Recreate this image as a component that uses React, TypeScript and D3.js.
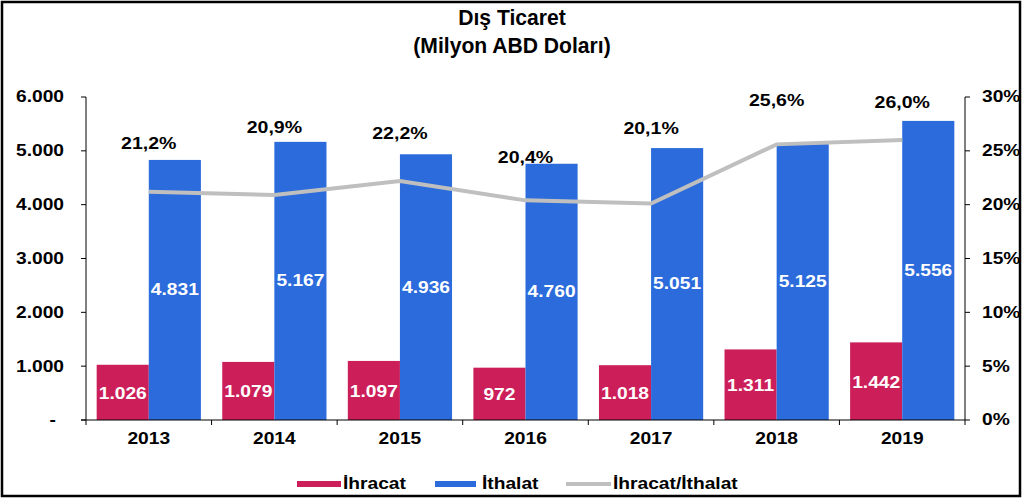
import * as d3 from "d3";
import React from "react";

const years = ["2013", "2014", "2015", "2016", "2017", "2018", "2019"];
const ihracat = [1026, 1079, 1097, 972, 1018, 1311, 1442];
const ithalat = [4831, 5167, 4936, 4760, 5051, 5125, 5556];
const oran = [21.2, 20.9, 22.2, 20.4, 20.1, 25.6, 26.0];
const leftTicks = [0, 1000, 2000, 3000, 4000, 5000, 6000];
const rightTicks = [0, 5, 10, 15, 20, 25, 30];

// label lift above the higher of bar top / line point (layout only)
const pctLift = [17, 15, 21, 7, 20, 44, 19];

const W = 1023;
const H = 499;
const margin = { top: 97, right: 58, bottom: 79, left: 86 };
const font = "'Liberation Sans', Arial, sans-serif";
const RED = "#CC1F5A";
const BLUE = "#2B6BDB";
const GREY = "#BFBFBF";
const SX = 1.2; // text in the picture is a bit wide

const fmt = (v: number) => d3.format(",")(v).replace(/,/g, ".");

function T({
  x,
  y,
  anchor = "middle",
  size = 16,
  fill = "#000",
  sx = SX,
  children,
}: {
  x: number;
  y: number;
  anchor?: string;
  size?: number;
  fill?: string;
  sx?: number;
  children: React.ReactNode;
}) {
  return (
    <text
      transform={`translate(${x},${y}) scale(${sx},1)`}
      textAnchor={anchor}
      dominantBaseline="central"
      fontSize={size}
      fontWeight="bold"
      fill={fill}
    >
      {children}
    </text>
  );
}

export default function App() {
  const x = d3
    .scaleBand()
    .domain(years)
    .range([margin.left, W - margin.right])
    .paddingInner(0.17)
    .paddingOuter(0.085);
  const sub = d3.scaleBand().domain(["ih", "it"]).range([0, x.bandwidth()]);
  const y = d3.scaleLinear().domain([0, 6000]).range([H - margin.bottom, margin.top]);
  const y2 = d3.scaleLinear().domain([0, 30]).range([H - margin.bottom, margin.top]);
  const cx = (yr: string) => (x(yr) ?? 0) + x.bandwidth() / 2;

  const line = d3
    .line<number>()
    .x((_, i) => cx(years[i]))
    .y((d) => y2(d));

  const x0 = margin.left;
  const x1 = W - margin.right;
  const yb = H - margin.bottom;
  const step = x.step();
  const bounds = d3.range(years.length + 1).map((i) => x0 + i * step);

  return (
    <div style={{ position: "absolute", left: 0, top: 0 }}>
      <svg width={W} height={H} style={{ display: "block", fontFamily: font }}>
        <rect x={0} y={0} width={W} height={H} fill="#fff" />
        <rect x={2} y={2} width={W - 5} height={H - 5} fill="none" stroke="#000" strokeWidth={2.5} />

        <T x={512} y={17} size={22} sx={0.96}>Dış Ticaret</T>
        <T x={512} y={45} size={22} sx={0.96}>(Milyon ABD Doları)</T>

        {/* bars */}
        {years.map((yr, i) => (
          <g key={yr}>
            <rect x={(x(yr) ?? 0) + (sub("ih") ?? 0)} y={y(ihracat[i])} width={sub.bandwidth()} height={yb - y(ihracat[i])} fill={RED} />
            <rect x={(x(yr) ?? 0) + (sub("it") ?? 0)} y={y(ithalat[i])} width={sub.bandwidth()} height={yb - y(ithalat[i])} fill={BLUE} />
          </g>
        ))}

        {/* ratio line */}
        <path d={line(oran) ?? ""} fill="none" stroke={GREY} strokeWidth={4} />

        {/* bar labels */}
        {years.map((yr, i) => {
          const bx = x(yr) ?? 0;
          return (
            <g key={"l" + yr}>
              <T x={bx + (sub("ih") ?? 0) + sub.bandwidth() / 2} y={(y(ihracat[i]) + yb) / 2 + 1} fill="#fff" size={16}>
                {fmt(ihracat[i])}
              </T>
              <T x={bx + (sub("it") ?? 0) + sub.bandwidth() / 2} y={(y(ithalat[i]) + yb) / 2} fill="#fff" size={16}>
                {fmt(ithalat[i])}
              </T>
            </g>
          );
        })}

        {/* percentage labels */}
        {years.map((yr, i) => (
          <T key={"p" + yr} x={cx(yr)} y={Math.min(y(ithalat[i]), y2(oran[i])) - pctLift[i]} size={17} sx={1.15}>
            {oran[i].toFixed(1).replace(".", ",") + "%"}
          </T>
        ))}

        {/* left axis */}
        <line x1={x0} x2={x0} y1={margin.top} y2={yb} stroke="#000" />
        {leftTicks.map((t) => (
          <g key={"lt" + t}>
            <line x1={x0 - 5} x2={x0} y1={y(t)} y2={y(t)} stroke="#000" />
            <T x={t === 0 ? 56 : 64} y={y(t)} anchor="end">
              {t === 0 ? "-" : fmt(t)}
            </T>
          </g>
        ))}

        {/* right axis */}
        <line x1={x1} x2={x1} y1={margin.top} y2={yb} stroke="#000" />
        {rightTicks.map((t) => (
          <g key={"rt" + t}>
            <line x1={x1} x2={x1 + 5} y1={y2(t)} y2={y2(t)} stroke="#000" />
            <T x={982} y={y2(t)} anchor="start">
              {t + "%"}
            </T>
          </g>
        ))}

        {/* x axis */}
        <line x1={x0 - 5} x2={x1} y1={yb} y2={yb} stroke="#000" />
        {bounds.map((b, i) => (
          <line key={"xt" + i} x1={b} x2={b} y1={yb} y2={yb + 5} stroke="#000" />
        ))}
        {years.map((yr) => (
          <T key={"xl" + yr} x={cx(yr)} y={439}>
            {yr}
          </T>
        ))}

        {/* legend */}
        <rect x={297} y={481} width={44} height={6} fill={RED} />
        <T x={343} y={484} anchor="start">İhracat</T>
        <rect x={435} y={481} width={41} height={6} fill={BLUE} />
        <T x={482} y={484} anchor="start">İthalat</T>
        <line x1={566} x2={611} y1={484} y2={484} stroke={GREY} strokeWidth={4} />
        <T x={613} y={484} anchor="start">İhracat/İthalat</T>
      </svg>
    </div>
  );
}
